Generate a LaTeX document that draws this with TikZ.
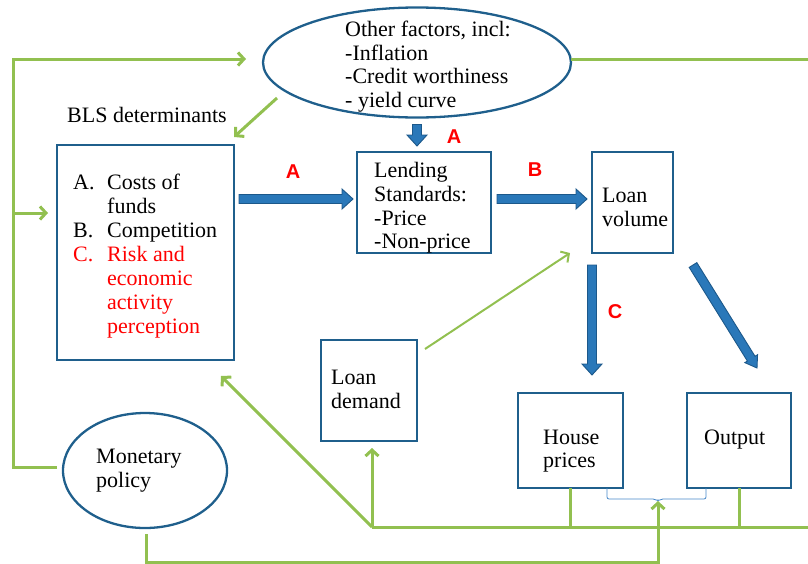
\documentclass[tikz,border=0pt]{standalone}
\usepackage{fontspec}
\setmainfont{Liberation Serif}
\newfontfamily\lblfont{Liberation Sans}
\usetikzlibrary{calc,arrows.meta,shapes.geometric}
\definecolor{bdr}{RGB}{31,95,140}
\definecolor{bfill}{RGB}{42,120,185}
\definecolor{bdark}{RGB}{28,88,138}
\definecolor{gr}{RGB}{146,192,80}
\definecolor{brc}{RGB}{70,135,200}
\newcommand{\blockarr}[3]{%
  \coordinate (bahb) at ($(#2)!11pt!(#1)$);
  \draw[barrow] ($(#1)!4.5pt!90:(#2)$) -- ($(bahb)!4.5pt!90:(#2)$) -- ($(bahb)!#3!90:(#2)$) -- (#2)
    -- ($(bahb)!#3!-90:(#2)$) -- ($(bahb)!4.5pt!-90:(#2)$) -- ($(#1)!4.5pt!-90:(#2)$) -- cycle;}
\tikzset{
  box/.style={rectangle, draw=bdr, line width=2.4pt, inner sep=0pt, outer sep=0pt},
  ell/.style={ellipse, draw=bdr, line width=2.3pt, inner sep=0pt, outer sep=0pt},
  txt/.style={inner sep=0pt, anchor=base west, font=\fontsize{22}{24}\selectfont},
  rtxt/.style={txt, text=red},
  lbl/.style={inner sep=0pt, text=red, font=\lblfont\bfseries\fontsize{20}{22}\selectfont},
  barrow/.style={draw=bdark, fill=bfill, line width=0.9pt, line join=miter},
  gl/.style={draw=gr, line width=3pt},
  glt/.style={draw=gr, line width=2pt},
  garrow/.style={-{Straight Barb[length=6pt,width=13pt]}},
  bracel/.style={draw=brc, line width=0.8pt, rounded corners=2pt}
}
\begin{document}
\begin{tikzpicture}[x=1pt,y=-1pt]
\useasboundingbox (0,0) rectangle (808,563);
% shapes
\node[ell, minimum width=308pt, minimum height=110pt] (oth) at (417,62.5) {};
\node[ell, minimum width=164pt, minimum height=115pt] (mp) at (145,470.5) {};
\node[box, minimum width=177pt, minimum height=215pt] (bls) at (145.5,252.5) {};
\node[box, minimum width=134pt, minimum height=101pt] (ls) at (424,202.5) {};
\node[box, minimum width=81pt, minimum height=101pt] (lv) at (632.5,202.5) {};
\node[box, minimum width=96pt, minimum height=101pt] (ld) at (369,390.5) {};
\node[box, minimum width=105pt, minimum height=95pt] (hp) at (570.5,440.5) {};
\node[box, minimum width=104pt, minimum height=95pt] (out) at (739,440.5) {};
% texts
\node[txt] (o1) at (345,36) {Other factors, incl:};
\node[txt] (o2) at (345,60) {-Inflation};
\node[txt] (o3) at (345,83) {-Credit worthiness};
\node[txt] (o4) at (345,107) {- yield curve};
\node[txt] (blsd) at (67,122) {BLS determinants};
\node[txt] (ka) at (73,189) {A.};
\node[txt] (k1) at (107,189) {Costs of};
\node[txt] (k2) at (107,213) {funds};
\node[txt] (kb) at (73,237) {B.};
\node[txt] (k3) at (107,237) {Competition};
\node[rtxt] (kc) at (73,261) {C.};
\node[rtxt] (k4) at (107,261) {Risk and};
\node[rtxt] (k5) at (107,285) {economic};
\node[rtxt] (k6) at (107,309) {activity};
\node[rtxt] (k7) at (107,333) {perception};
\node[txt] (l1) at (374,177) {Lending};
\node[txt] (l2) at (374,201) {Standards:};
\node[txt] (l3) at (374,225) {-Price};
\node[txt] (l4) at (374,248) {-Non-price};
\node[txt] (v1) at (602,202) {Loan};
\node[txt] (v2) at (602,226) {volume};
\node[txt] (d1) at (331,384) {Loan};
\node[txt] (d2) at (331,408) {demand};
\node[txt] (h1) at (543,444) {House};
\node[txt] (h2) at (543,467) {prices};
\node[txt] (ot) at (704,444) {Output};
\node[txt] (m1) at (96,463) {Monetary};
\node[txt] (m2) at (96,487) {policy};
\node[lbl] (la1) at (293,172) {A};
\node[lbl] (la2) at (454,137) {A};
\node[lbl] (lb) at (535,170) {B};
\node[lbl] (lc) at (615,312) {C};
% green connectors
\coordinate (cBL) at (13,467);
\coordinate (cTL) at (13,59);
\coordinate (brL) at (13,213);
\coordinate (rT) at (808,59);
\coordinate (J) at (372,527);
\coordinate (rB) at (808,527);
\coordinate (mpB) at (146,562);
\coordinate (bL) at ($(hp.south east)+(-16,0)$);
\coordinate (bR) at ($(out.south west)+(19,0)$);
\coordinate (bT) at (658,501);
\draw[gl, garrow] ($(mp.west)+(-6,-3.5)$) -- (cBL) -- (cTL) -- ($(oth.west)+(-17,-3.5)$);
\draw[gl, garrow] (brL) -- ($(bls.west |- brL)+(-9,0)$);
\draw[gl] ($(oth.east)+(0,-3.5)$) -- (rT);
\draw[gl, garrow] ($(oth.center)+(-140,35.5)$) -- ($(bls.north east)+(0,-8)$);
\draw[glt, garrow] ($(ld.north east)+(8,9)$) -- ($(lv.south west)+(-22,0)$);
\draw[gl] (J) -- (rB);
\draw[gl, garrow] (J) -- ($(J |- ld.south)+(0,7)$);
\draw[gl, garrow] (J) -- ($(bls.south east)+(-13,16)$);
\draw[gl] (hp.south) -- (hp.south |- J);
\draw[gl] (out.south) -- (out.south |- J);
\draw[bracel] (bL) -- ($(bL)+(0,11)$) -- ($(bT)+(-3,-2)$) -- (bT) -- ($(bT)+(3,-2)$) -- ($(bR)+(0,11)$) -- (bR);
\draw[gl, garrow] ($(mp.south)+(1,6)$) -- (mpB) -- (mpB -| bT) -- (bT);
% blue block arrows
\coordinate (a1s) at ($(bls.east |- ls.center)+(5,-3.5)$);
\coordinate (a1e) at ($(ls.west)+(-4,-3.5)$);
\coordinate (bs) at ($(ls.east)+(6,-3.5)$);
\coordinate (be) at ($(lv.west)+(-5,-3.5)$);
\coordinate (ts) at ($(oth.south)+(0,7)$);
\coordinate (te) at ($(ls.north)+(-7,-6)$);
\coordinate (cs) at ($(lv.south)+(-40.5,12)$);
\coordinate (ce) at ($(hp.north)+(21.5,-18)$);
\coordinate (ds) at ($(lv.south east)+(20,12)$);
\coordinate (de) at ($(out.north)+(18,-25)$);
\blockarr{a1s}{a1e}{10pt}
\blockarr{bs}{be}{10pt}
\blockarr{ts}{te}{10pt}
\blockarr{cs}{ce}{10pt}
\blockarr{ds}{de}{7.5pt}
\end{tikzpicture}
\end{document}
